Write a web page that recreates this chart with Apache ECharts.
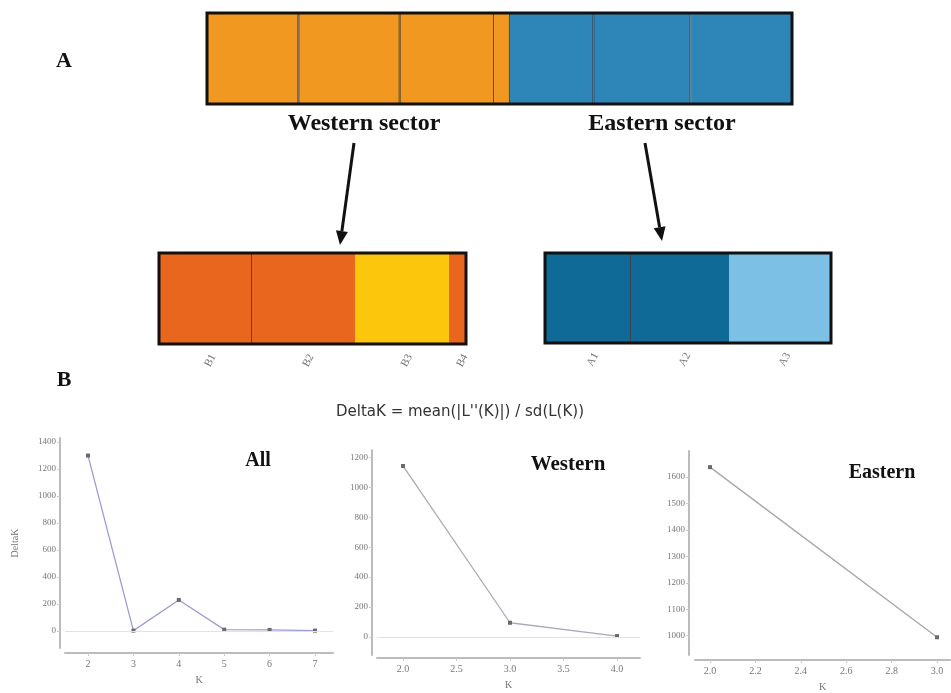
<!DOCTYPE html>
<html>
<head>
<meta charset="utf-8">
<script src="https://cdn.jsdelivr.net/npm/echarts@6/dist/echarts.min.js"></script>
<style>html,body{margin:0;padding:0;background:#fff;}#c{width:951px;height:693px;}</style>
</head>
<body>
<div id="c"></div>
<script>
// ---- STRUCTURE bar plots (population sizes) ----
const topNames = ['B1','B2','B3','B4','A1','A2','A3'];
const topSizes = [92, 102, 95, 15, 85, 98, 102];
const topClusters = [0, 0, 0, 0, 1, 1, 1];
const topColors = ['#F0981F', '#2E86B8'];

const westNames = ['B1','B2','B3','B4'];
const westSizes = [93, 103, 94, 17];
const westClusters = [0, 0, 1, 0];
const westColors = ['#E8661E', '#FCC60C'];

const eastNames = ['A1','A2','A3'];
const eastSizes = [86, 98, 102];
const eastClusters = [0, 0, 1];
const eastColors = ['#0F6A98', '#7DC0E6'];

// ---- DeltaK line charts ----
const kAll = [2, 3, 4, 5, 6, 7];
const deltaKAll = [1300, 3, 230, 10, 8, 3];
const kAllTicks = [2, 3, 4, 5, 6, 7];
const yAllTicks = [0, 200, 400, 600, 800, 1000, 1200, 1400];

const kWest = [2, 3, 4];
const deltaKWest = [1144, 94, 5];
const kWestTicks = [2.0, 2.5, 3.0, 3.5, 4.0];
const yWestTicks = [0, 200, 400, 600, 800, 1000, 1200];

const kEast = [2, 3];
const deltaKEast = [1637, 994];
const kEastTicks = [2.0, 2.2, 2.4, 2.6, 2.8, 3.0];
const yEastTicks = [1000, 1100, 1200, 1300, 1400, 1500, 1600];

const serif = 'Liberation Serif';
const chart = echarts.init(document.getElementById('c'), null, {renderer: 'canvas'});

const grids = [
  {left: 207, top: 13, width: 585, height: 91},
  {left: 159, top: 253, width: 307, height: 91},
  {left: 545, top: 253, width: 286, height: 90},
  {left: 65, top: 438, width: 268, height: 210},
  {left: 377, top: 450, width: 263, height: 205},
  {left: 695, top: 451, width: 255, height: 207}
].map((g, i) => Object.assign({
  show: i < 3, borderColor: '#111', borderWidth: 3, z: 10,
  backgroundColor: 'transparent', containLabel: false
}, g));

const xAxes = [], yAxes = [], series = [];

function structPlot(gi, names, sizes, clusters, colors, showLabels) {
  const total = sizes.reduce((a, b) => a + b, 0);
  xAxes.push({gridIndex: gi, type: 'value', min: 0, max: total, show: false});
  yAxes.push({gridIndex: gi, type: 'category', data: ['q'], show: false});
  names.forEach((n, i) => {
    const nextSame = i < names.length - 1 && clusters[i + 1] === clusters[i];
    series.push({
      type: 'bar', name: n, xAxisIndex: gi, yAxisIndex: gi, stack: 's' + gi,
      barWidth: '100%', z: 1, silent: true,
      data: [sizes[i]],
      itemStyle: {color: colors[clusters[i]], borderColor: nextSame ? 'rgba(40,30,30,0.75)' : colors[clusters[i]], borderWidth: 1},
      label: showLabels ? {
        show: true, position: 'bottom', distance: 14, rotate: 62,
        formatter: n, fontFamily: serif, fontSize: 11, color: '#777'
      } : {show: false}
    });
  });
}
structPlot(0, topNames, topSizes, topClusters, topColors, false);
structPlot(1, westNames, westSizes, westClusters, westColors, true);
structPlot(2, eastNames, eastSizes, eastClusters, eastColors, true);

const axisLineStyle = {color: '#bcbcbc', width: 2};
function linePlot(gi, xs, ys, xTicks, yTicks, xr, yr, xOff, yOff, lineColor, yName, xDec, zeroLine) {
  xAxes.push({
    gridIndex: gi, type: 'value', min: xr[0], max: xr[1], offset: xOff,
    position: 'bottom',
    axisLine: {show: true, onZero: false, lineStyle: axisLineStyle},
    axisTick: {show: true, customValues: xTicks, length: 3, lineStyle: {color: '#ccc'}},
    axisLabel: {customValues: xTicks, fontFamily: serif, fontSize: 10, color: '#777', margin: 6,
      formatter: v => xDec ? Number(v).toFixed(1) : String(v)},
    splitLine: {show: false},
    name: 'K', nameLocation: 'middle', nameGap: 22,
    nameTextStyle: {fontFamily: serif, fontSize: 10, color: '#777'}
  });
  yAxes.push({
    gridIndex: gi, type: 'value', min: yr[0], max: yr[1], offset: yOff,
    position: 'left',
    axisLine: {show: true, onZero: false, lineStyle: axisLineStyle},
    axisTick: {show: true, customValues: yTicks, length: 3, lineStyle: {color: '#ccc'}},
    axisLabel: {customValues: yTicks, fontFamily: serif, fontSize: 9, color: '#777', margin: 4,
      formatter: v => String(v)},
    splitLine: {show: false},
    name: yName, nameLocation: 'middle', nameGap: 40, nameRotate: 90,
    nameTextStyle: {fontFamily: serif, fontSize: 10, color: '#777'}
  });
  const s = {
    type: 'line', xAxisIndex: gi, yAxisIndex: gi, silent: true,
    data: xs.map((x, i) => [x, ys[i]]),
    lineStyle: {color: lineColor, width: 1.3},
    symbol: 'rect', symbolSize: 4, showSymbol: true,
    itemStyle: {color: '#6a6a6a'}
  };
  if (zeroLine) {
    s.markLine = {silent: true, symbol: 'none', label: {show: false},
      lineStyle: {color: '#e2e2e2', type: 'solid', width: 1}, data: [{yAxis: 0}]};
  }
  series.push(s);
}
linePlot(3, kAll, deltaKAll, kAllTicks, yAllTicks, [1.493, 7.396], [-126, 1430], 5, 5, '#9c9cd6', 'DeltaK', false, true);
linePlot(4, kWest, deltaKWest, kWestTicks, yWestTicks, [1.757, 4.215], [-122, 1251], 3, 5, '#aaaab8', '', true, true);
linePlot(5, kEast, deltaKEast, kEastTicks, yEastTicks, [1.934, 3.057], [927, 1698], 5, 6, '#a6a6a6', '', true, false);

function txt(x, y, s, size, bold, family, color) {
  return {type: 'text', x: x, y: y, silent: true, z: 20,
    style: {text: s, font: (bold ? 'bold ' : '') + size + 'px "' + family + '"', fill: color || '#111',
      textAlign: 'center', textVerticalAlign: 'middle'}};
}
function arrow(x1, y1, x2, y2) {
  const dx = x2 - x1, dy = y2 - y1, L = Math.hypot(dx, dy);
  const ux = dx / L, uy = dy / L, hl = 14, hw = 6;
  const bx = x2 - ux * hl, by = y2 - uy * hl;
  return [
    {type: 'line', silent: true, z: 20, shape: {x1: x1, y1: y1, x2: bx, y2: by}, style: {stroke: '#111', lineWidth: 3}},
    {type: 'polygon', silent: true, z: 20, shape: {points: [[x2, y2], [bx - uy * hw, by + ux * hw], [bx + uy * hw, by - ux * hw]]}, style: {fill: '#111'}}
  ];
}

const option = {
  animation: false,
  backgroundColor: '#fff',
  grid: grids,
  xAxis: xAxes,
  yAxis: yAxes,
  series: series,
  graphic: [
    txt(64, 61, 'A', 22, true, serif),
    txt(64, 380, 'B', 22, true, serif),
    txt(364, 124, 'Western sector', 24, true, serif),
    txt(662, 124, 'Eastern sector', 24, true, serif),
    txt(460, 412, "DeltaK = mean(|L''(K)|) / sd(L(K))", 15, false, 'DejaVu Sans', '#333'),
    txt(258, 461, 'All', 20, true, serif),
    txt(568, 465, 'Western', 21, true, serif),
    txt(882, 473, 'Eastern', 20, true, serif)
  ].concat(arrow(354, 143, 340, 245)).concat(arrow(645, 143, 662, 241))
};
chart.setOption(option);
</script>
</body>
</html>
